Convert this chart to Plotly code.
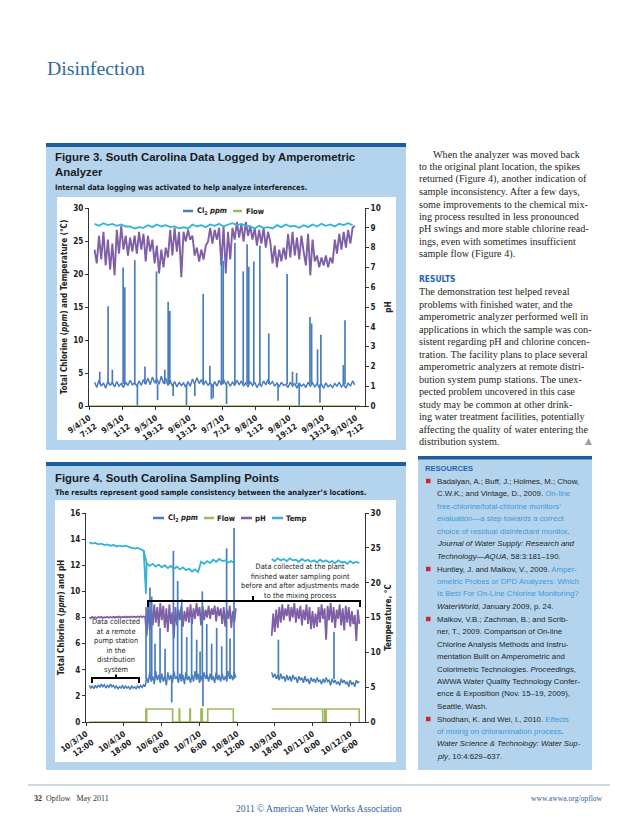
import numpy as np
import plotly.graph_objects as go

# page is 638x826; the figure sits inside the page's 8px body margin
PAGE_OFF = 8
W, H = 638 - 2 * PAGE_OFF, 826 - 2 * PAGE_OFF
def px(x): return (x - PAGE_OFF) / W
def py(y): return 1 - (y - PAGE_OFF) / H

SERIF = "Liberation Serif, Times New Roman, serif"
SANS = "Liberation Sans, Arial, sans-serif"
NARROW = "DejaVu Sans Condensed, Liberation Sans, sans-serif"

C_CL2 = "#4a7dbd"
C_FLOW = "#9bbb59"
C_PH = "#7f5fa6"
C_TEMP = "#33b4d6"
LIGHT = "#b4d4ee"
DARK = "#1f5f99"

# ---------------- Figure 3 data (hours after 9/4/10 7:12) ----------------
fig3_tick_hours = [0, 18, 36, 54, 72, 90, 108, 126, 144]
fig3_tick_labels = ["9/4/10<br>7:12", "9/5/10<br>1:12", "9/5/10<br>19:12", "9/6/10<br>13:12",
                    "9/7/10<br>7:12", "9/8/10<br>1:12", "9/8/10<br>19:12", "9/9/10<br>13:12",
                    "9/10/10<br>7:12"]
fig3_fast_start, fig3_fast_step = 3.0, 1.2
fig3_ph = [7.9, 7.2, 8.6, 7.4, 8.8, 7.1, 8.4,
           6.9, 8.2, 6.6,
           8.9, 7.7, 9.1, 7.9,
           8.6, 7.6, 8.5, 7.8, 8.6, 7.7,
           8.8, 7.9, 8.7, 7.3, 8.6, 7.8, 8.4,
           7.2, 8.1, 6.7, 7.9, 7.0, 8.0,
           7.5, 8.9, 7.6, 9.0, 7.8, 8.8,
           6.5, 8.8, 8.3, 8.9, 8.4, 8.6,
           7.6, 8.0, 7.3, 7.9, 7.4, 8.1,
           8.3, 9.0, 8.2, 8.9, 8.4, 9.0,
           7.1, 9.1, 6.7, 8.8, 7.4, 9.0,
           8.4, 9.3, 8.5, 9.2, 8.3, 9.3, 8.6, 9.1, 8.4,
           9.0, 8.1, 8.9, 8.2, 9.0, 8.0, 8.8, 8.3,
           7.2, 8.1, 7.0, 7.9, 7.3, 8.0, 7.4,
           8.7, 7.5, 8.8, 7.6, 8.5, 7.4, 8.6, 7.8,
           7.1, 8.7, 6.6, 8.4, 7.3,
           7.6, 7.0, 7.5, 7.1, 7.6, 7.0, 7.5, 7.2,
           8.4, 7.7, 8.7, 7.9, 8.8, 8.0, 8.9, 8.2, 9.0, 9.1]
fig3_cl2 = [3.6, 2.8, 3.9, 3.0, 3.5, 2.7, 3.8, 3.1, 3.6, 2.9,
            3.7, 3.0, 3.4, 2.8, 3.6, 3.1, 3.9, 3.2, 3.5, 3.0,
            3.8, 3.1, 4.0, 3.3, 4.2, 3.2, 4.4, 3.5, 4.1, 3.3,
            4.5, 3.4, 4.2, 3.1, 3.9, 3.0, 3.7, 2.9, 3.6, 3.1,
            3.5, 2.8, 3.7, 3.0, 4.1, 3.3, 4.3, 3.4, 4.0, 3.2,
            3.8, 3.1, 3.6, 2.9, 3.7, 3.0, 3.9, 3.2, 4.0, 3.3,
            3.7, 3.0, 3.6, 3.1, 3.9, 3.2, 3.8, 3.0, 3.5, 2.9,
            3.7, 3.1, 3.6, 2.8, 3.4, 3.0, 3.8, 3.2, 4.0, 3.3,
            3.7, 3.0, 3.5, 2.9, 3.6, 3.1, 3.3, 2.8, 3.6, 3.0,
            3.4, 2.7, 3.5, 3.0, 3.3, 2.8, 3.6, 3.0, 3.5, 2.9,
            3.4, 2.8, 3.3, 2.7, 3.5, 2.9, 3.2, 2.8, 3.4, 3.0,
            3.6, 2.9, 3.3, 2.7, 3.5, 3.0, 3.8, 3.2]
fig3_slow_start, fig3_slow_step = 3.0, 2.4
fig3_temp = [27.6, 27.3, 27.7, 27.4, 27.6, 27.3, 27.5, 27.2,
             27.2, 26.9, 27.1, 27.0,
             27.4, 27.1, 27.5, 27.2, 27.4, 27.1,
             27.2, 26.9, 27.1, 26.9,
             27.5, 27.2, 27.4, 27.1, 27.5, 27.3, 27.6, 27.2, 27.5,
             27.7, 27.4, 27.6, 27.3,
             27.2, 26.9, 27.3, 27.0, 27.1, 26.9,
             27.4, 27.1, 27.5, 27.2, 27.3, 27.0, 27.4, 27.1,
             27.5, 27.2, 27.6, 27.3, 27.5, 27.2, 27.6, 27.4, 27.7, 27.4]
fig3_cl2_base = 3.3
fig3_spike_hours = [5.8, 10.3, 12.6, 18.4, 19.3, 24.7, 26.1, 30.2, 36.4, 37.0, 40.9, 42.7, 43.6,
                    45.4, 52.6, 57.1, 61.6, 65.2, 66.0, 67.0, 71.5, 72.4, 74.2, 78.7, 83.2,
                    85.3, 86.2, 88.9, 92.2, 97.0, 102.0, 106.9, 109.8, 112.0, 113.4, 119.2,
                    120.1, 123.3, 124.6, 125.1, 137.2, 138.1]
fig3_spike_vals = [5.2, 15.1, 5.5, 21.0, 18.0, 22.1, 0.0, 6.0, 20.4, 0.9, 5.5, 15.8, 14.4,
                   1.5, 0.0, 1.5, 17.0, 6.1, 1.0, 1.2, 22.7, 22.0, 0.3, 24.7, 20.4,
                   24.5, 21.1, 21.9, 24.3, 11.0, 0.8, 20.0, 5.2, 5.0, 0.0, 13.5,
                   12.5, 8.6, 0.5, 10.8, 6.2, 13.0]
fig3_flow_hours = [0, 146]
fig3_flow = [0, 0]

# ---------------- Figure 4 data (hours after 10/3/10 12:00) ----------------
fig4_tick_hours = [0, 30, 60, 90, 120, 150, 180, 210]
fig4_tick_labels = ["10/3/10<br>12:00", "10/4/10<br>18:00", "10/6/10<br>0:00", "10/7/10<br>6:00",
                    "10/8/10<br>12:00", "10/9/10<br>18:00", "10/11/10<br>0:00", "10/12/10<br>6:00"]
fig4_ab_start, fig4_c_start = 2.6, 147.5
fig4_fast_step, fig4_slow_step = 1.2, 2.4
fig4_ph_ab = [8.0, 7.95, 8.05, 7.98, 8.02, 7.96, 8.04, 8.0, 8.05, 7.97,
              8.03, 8.0, 8.06, 7.98, 8.04, 8.0, 8.05, 7.99, 8.06, 8.01,
              8.07, 8.0, 8.05, 8.02, 8.08, 8.01, 8.06, 8.02, 8.08, 8.03,
              8.07, 8.02, 8.08, 8.04, 8.09, 8.03, 8.08, 8.05,
              6.6, 8.9, 7.0, 8.6, 7.4, 9.0, 7.6, 8.8, 7.3, 9.1,
              7.8, 8.9, 7.2, 8.7, 6.9, 9.0, 7.5, 8.4, 6.4, 8.8,
              7.4, 8.6, 7.8, 8.9, 7.3, 8.5, 7.7, 8.8, 7.6, 9.0,
              7.5, 8.7, 7.9, 9.1, 8.1, 8.8, 7.4, 8.9, 7.8, 8.6,
              8.0, 8.9, 7.9, 8.7, 8.2, 8.9, 7.7, 8.8, 8.1, 8.7,
              7.5, 8.8, 7.3, 8.6, 7.9, 8.9, 7.2, 8.5, 7.6, 8.7]
fig4_ph_c = [6.6, 8.3, 6.9, 8.6, 7.2, 8.8, 7.6, 9.0, 7.8, 8.7,
             8.1, 9.0, 7.7, 8.8, 8.0, 9.1, 7.6, 8.7, 7.9, 8.9,
             7.4, 8.6, 7.8, 9.0, 7.5, 8.8, 7.1, 8.5, 7.2, 8.3,
             7.3, 8.8, 7.6, 9.0, 7.9, 8.7, 6.3, 8.9, 7.8, 9.1,
             7.6, 8.8, 7.2, 8.6, 7.9, 9.0, 7.4, 8.7, 7.0, 8.9,
             7.6, 8.8, 7.3, 8.5, 7.5, 8.2, 6.2, 8.6, 7.5]
fig4_cl2_ab = [2.8, 2.6, 2.75, 2.55, 2.8, 2.6, 2.85, 2.65, 2.9, 2.7,
               2.85, 2.6, 2.8, 2.65, 2.9, 2.7, 2.8, 2.6, 2.75, 2.55,
               2.7, 2.6, 2.8, 2.55, 2.75, 2.6, 2.7, 2.5, 2.75, 2.6,
               2.7, 2.55, 2.75, 2.6, 2.8, 2.65, 2.85, 2.7,
               3.4, 3.0, 3.8, 3.1, 3.5, 2.9, 3.9, 3.2, 3.6, 3.0,
               3.7, 3.1, 3.5, 2.8, 3.8, 3.2, 3.6, 3.0, 3.9, 3.3,
               3.5, 3.0, 3.7, 3.1, 3.6, 2.9, 3.8, 3.2, 3.5, 3.0,
               3.6, 3.1, 3.9, 3.2, 3.7, 3.0, 3.5, 3.1, 3.8, 3.3,
               3.6, 3.1, 3.7, 3.2, 3.5, 3.0, 3.8, 3.2, 3.6, 3.1,
               3.7, 3.2, 3.5, 3.1, 3.9, 3.3, 3.6, 3.2, 3.8, 3.4]
fig4_cl2_c = [3.8, 3.4, 3.7, 3.3, 3.6, 3.2, 3.7, 3.3, 3.5, 3.1,
              3.6, 3.2, 3.5, 3.1, 3.6, 3.3, 3.4, 3.0, 3.5, 3.2,
              3.4, 3.0, 3.5, 3.1, 3.3, 2.9, 3.4, 3.1, 3.3, 3.0,
              3.4, 3.1, 3.2, 2.9, 3.3, 3.0, 3.4, 3.1, 3.2, 2.8,
              3.3, 3.0, 3.2, 2.9, 3.1, 2.8, 3.3, 3.0, 3.2, 2.9,
              3.1, 2.7, 3.2, 2.9, 3.0, 2.7, 3.2, 3.0, 3.1]
fig4_temp_ab = [25.8, 25.6, 25.7, 25.5, 25.6, 25.4, 25.5, 25.3, 25.4, 25.2,
                25.3, 25.2, 25.3, 25.1, 25.0, 24.9, 25.0, 24.8, 24.6,
                22.8, 22.4, 22.7, 22.3, 22.6, 22.2, 22.5, 22.1, 22.4, 22.0,
                22.3, 21.9, 22.2, 21.8, 22.0, 21.6, 21.9, 21.5, 23.0, 22.7,
                23.1, 22.8, 23.3, 23.0, 23.4, 23.1, 23.2, 22.9, 23.1, 22.8]
fig4_temp_c = [23.4, 23.1, 23.5, 23.2, 23.4, 23.1, 23.5, 23.2, 23.3, 23.0,
               23.4, 23.1, 23.3, 23.0, 23.2, 22.9, 23.3, 23.0, 23.2, 22.9,
               23.1, 22.8, 23.2, 22.9, 23.0, 22.7, 23.1, 22.8, 23.0, 22.8]
fig4_temp_event_hours = [45.8, 47.6, 48.2]
fig4_temp_event_vals = [24.6, 18.4, 22.8]
fig4_cl2_base = 3.3
fig4_spike_hours = [47.7, 50.8, 52.2, 54.8, 58.8, 62.8, 68.1, 69.4, 72.8, 76.0, 80.0, 83.9,
                    87.9, 90.6, 92.4, 92.9, 95.9, 99.8, 103.8, 107.8, 111.7, 114.4, 117.6,
                    152.8, 197.0]
fig4_spike_vals = [8.8, 10.3, 9.6, 6.0, 7.2, 5.6, 1.5, 13.1, 10.8, 9.4, 6.5, 7.8,
                   6.3, 5.4, 10.0, 1.2, 7.5, 6.0, 7.2, 5.8, 13.3, 6.4, 14.85,
                   6.3, 6.9]
fig4_flow_hours = [2.6, 47.5, 47.8, 48.2, 68.8, 74.0, 74.4, 82.5, 82.9, 91.3, 92.4, 96.7,
                   117.0, 119.7, None, 147.5, 188.0, 189.6, 190.2, 190.8, 217.0, 217.7]
fig4_flow = [0, 1, 0, 1, 0, 1, 0, 1, 0, 1, 0, 1,
             0, 0, None, 1, 0, 1, 0, 1, 0, 0]


def grid(start, step, vals):
    return list(start + step * np.arange(len(vals)))


def spikes(hours, vals, base):
    xs, ys = [], []
    for h, v in zip(hours, vals):
        xs += [h, h, None]
        ys += [base, v, None]
    return xs, ys


fig = go.Figure()

# ---------- Figure 3 traces ----------
h3f = grid(fig3_fast_start, fig3_fast_step, fig3_ph)
h3s = grid(fig3_slow_start, fig3_slow_step, fig3_temp)
fig.add_trace(go.Scatter(x=h3f, y=fig3_ph, xaxis="x", yaxis="y", mode="lines",
                         line=dict(color=C_PH, width=1.9), name="pH", showlegend=False))
fig.add_trace(go.Scatter(x=h3s, y=fig3_temp, xaxis="x", yaxis="y2", mode="lines",
                         line=dict(color=C_TEMP, width=1.8), name="Temp", showlegend=False))
fig.add_trace(go.Scatter(x=h3f, y=fig3_cl2, xaxis="x", yaxis="y2", mode="lines",
                         line=dict(color=C_CL2, width=1.5), name="Cl2 ppm", showlegend=False))
sx, sy = spikes(fig3_spike_hours, fig3_spike_vals, fig3_cl2_base)
fig.add_trace(go.Scatter(x=sx, y=sy, xaxis="x", yaxis="y2", mode="lines",
                         line=dict(color=C_CL2, width=1.7), showlegend=False))
fig.add_trace(go.Scatter(x=fig3_flow_hours, y=fig3_flow, xaxis="x", yaxis="y2", mode="lines",
                         line=dict(color=C_FLOW, width=1.5), name="Flow", showlegend=False))

# ---------- Figure 4 traces ----------
h4ab = grid(fig4_ab_start, fig4_fast_step, fig4_ph_ab)
h4c = grid(fig4_c_start, fig4_fast_step, fig4_ph_c)
t4ab = grid(fig4_ab_start, fig4_slow_step, fig4_temp_ab)
t4c = grid(fig4_c_start, fig4_slow_step, fig4_temp_c)
fig.add_trace(go.Scatter(x=h4ab + [None] + h4c, y=fig4_ph_ab + [None] + fig4_ph_c,
                         xaxis="x2", yaxis="y3", mode="lines",
                         line=dict(color=C_PH, width=1.8), showlegend=False))
fig.add_trace(go.Scatter(x=h4ab + [None] + h4c, y=fig4_cl2_ab + [None] + fig4_cl2_c,
                         xaxis="x2", yaxis="y3", mode="lines",
                         line=dict(color=C_CL2, width=1.5), showlegend=False))
sx, sy = spikes(fig4_spike_hours, fig4_spike_vals, fig4_cl2_base)
fig.add_trace(go.Scatter(x=sx, y=sy, xaxis="x2", yaxis="y3", mode="lines",
                         line=dict(color=C_CL2, width=1.7), showlegend=False))
fig.add_trace(go.Scatter(x=fig4_flow_hours, y=fig4_flow, xaxis="x2", yaxis="y3", mode="lines",
                         line=dict(color=C_FLOW, width=1.6, shape="hv"), showlegend=False))
fig.add_trace(go.Scatter(x=t4ab + [None] + t4c, y=fig4_temp_ab + [None] + fig4_temp_c,
                         xaxis="x2", yaxis="y4", mode="lines",
                         line=dict(color=C_TEMP, width=1.8), showlegend=False))
fig.add_trace(go.Scatter(x=fig4_temp_event_hours, y=fig4_temp_event_vals, xaxis="x2", yaxis="y4",
                         mode="lines", line=dict(color=C_TEMP, width=1.8), showlegend=False))

TF = dict(family=NARROW, size=8.1, color="#222", weight="bold")
AX = dict(showline=True, linecolor="#333", linewidth=1, ticks="outside", ticklen=3,
          tickcolor="#333", showgrid=False, zeroline=False, tickfont=TF, automargin=False)

fig.update_layout(
    template="none",
    width=W, height=H, autosize=False,
    margin=dict(l=0, r=0, t=0, b=0, pad=0, autoexpand=False),
    paper_bgcolor="white", plot_bgcolor="rgba(0,0,0,0)",
    showlegend=False,
    xaxis=dict(domain=[px(89), px(365)], range=[0, 148.9], anchor="y",
               tickmode="array", tickvals=fig3_tick_hours, ticktext=fig3_tick_labels,
               tickangle=-35, **AX),
    yaxis=dict(domain=[py(406), py(208)], range=[0, 10], side="right", anchor="x",
               dtick=1, title=dict(text="pH", font=TF, standoff=5), **AX),
    yaxis2=dict(overlaying="y", side="left", anchor="x", range=[0, 30], dtick=5,
                title=dict(text="Total Chlorine (<i>ppm</i>) and Temperature (°C)", font=TF, standoff=4),
                **AX),
    xaxis2=dict(domain=[px(86), px(365)], range=[0, 221.6], anchor="y3",
                tickmode="array", tickvals=fig4_tick_hours, ticktext=fig4_tick_labels,
                tickangle=-35, **AX),
    yaxis3=dict(domain=[py(722), py(513)], range=[0, 16], side="left", anchor="x2", dtick=2,
                title=dict(text="Total Chlorine (<i>ppm</i>) and pH", font=TF, standoff=4), **AX),
    yaxis4=dict(overlaying="y3", side="right", anchor="x2", range=[0, 30], dtick=5,
                title=dict(text="Temperature, °C", font=TF, standoff=5), **AX),
)

shapes = []
def rect(x0, y0, x1, y1, color):
    shapes.append(dict(type="rect", xref="paper", yref="paper", x0=px(x0), x1=px(x1),
                       y0=py(y1), y1=py(y0), fillcolor=color, line=dict(width=0), layer="below"))
def seg(x0, y0, x1, y1, color, width=1.0, layer="above"):
    shapes.append(dict(type="line", xref="paper", yref="paper", x0=px(x0), x1=px(x1),
                       y0=py(y0), y1=py(y1), line=dict(color=color, width=width), layer=layer))

# figure boxes
rect(46, 144, 406, 450, LIGHT)
rect(57, 197, 396, 440, "white")
rect(46, 143, 406, 147, DARK)
rect(46, 463, 406, 770, LIGHT)
rect(55, 500, 396, 762, "white")
rect(46, 462, 406, 466, DARK)
# resources box
rect(418, 458, 592, 770, LIGHT)
rect(418, 456, 592, 459.5, DARK)
# footer rule
seg(28, 785, 610, 785, "#9bb3c4", 1.2)

# legends
seg(183, 211, 193, 211, C_CL2, 2.5)
seg(233, 211, 242, 211, C_FLOW, 2.5)
seg(153, 518, 164, 518, C_CL2, 2.5)
seg(204, 518, 214, 518, C_FLOW, 2.5)
seg(241, 518, 252, 518, C_PH, 2.5)
seg(272, 518, 283, 518, C_TEMP, 2.5)

# brackets in figure 4
seg(148, 601, 360, 601, "black", 2)
seg(148, 600, 148, 607, "black", 2)
seg(360, 600, 360, 607, "black", 2)
seg(253, 596, 253, 601, "black", 2)
seg(92, 678, 139, 678, "black", 2)
seg(92, 677, 92, 683, "black", 2)
seg(139, 677, 139, 683, "black", 2)
seg(116, 674.5, 116, 678, "black", 2)

# bullets
for yb in [481, 569, 619, 719]:
    rect(426, yb - 2.2, 430.5, yb + 2.2, "#d3242b")

# small logo mark
shapes.append(dict(type="path", xref="paper", yref="paper",
                   path=f"M {px(585)},{py(445)} L {px(588.5)},{py(438)} L {px(592)},{py(445)} Z",
                   fillcolor="#a0a0a0", line=dict(width=0)))

fig.update_layout(shapes=shapes)


def txt(x, y, s, size, color="#231f20", family=SERIF, anchor="left", weight="normal"):
    fig.add_annotation(x=px(x), y=py(y), xref="paper", yref="paper", text=s, showarrow=False,
                       xanchor=anchor, yanchor="middle", borderpad=0,
                       font=dict(family=family, size=size, color=color, weight=weight))

txt(46, 68, "Disinfection", 19.8, color="#2c6aa8")

# figure headings
HEAD = "Liberation Sans, Arial, sans-serif"
txt(54, 157, "Figure 3. South Carolina Data Logged by Amperometric", 11.4, "#1a1a1a", HEAD, weight="bold")
txt(54, 172.5, "Analyzer", 11.4, "#1a1a1a", HEAD, weight="bold")
txt(54, 187, "Internal data logging was activated to help analyze interferences.", 7.5, "#1a1a1a", NARROW, weight="bold")
txt(54, 478, "Figure 4. South Carolina Sampling Points", 11.4, "#1a1a1a", HEAD, weight="bold")
txt(54, 492, "The results represent good sample consistency between the analyzer’s locations.", 7.5, "#1a1a1a", NARROW, weight="bold")

txt(196, 211, "Cl<sub>2</sub> <i>ppm</i>", 7.6, "#222", NARROW, weight="bold")
txt(245, 211, "Flow", 7.6, "#222", NARROW, weight="bold")
txt(167, 518, "Cl<sub>2</sub> <i>ppm</i>", 7.6, "#222", NARROW, weight="bold")
txt(216, 518, "Flow", 7.6, "#222", NARROW, weight="bold")
txt(254, 518, "pH", 7.6, "#222", NARROW, weight="bold")
txt(285, 518, "Temp", 7.6, "#222", NARROW, weight="bold")

fig.add_annotation(x=px(300), y=py(581), xref="paper", yref="paper", showarrow=False,
                   text="Data collected at the plant<br>finished water sampling point<br>before and after adjustments made<br>to the mixing process",
                   align="center", xanchor="center", yanchor="middle", borderpad=0,
                   font=dict(family=NARROW, size=7.4, color="#222"))
fig.add_annotation(x=px(116), y=py(645.5), xref="paper", yref="paper", showarrow=False,
                   text="Data collected<br>at a remote<br>pump station<br>in the<br>distribution<br>system",
                   align="center", xanchor="center", yanchor="middle", borderpad=0,
                   font=dict(family=NARROW, size=7.4, color="#222"))

# right column body text
body1 = ["to the original plant location, the spikes",
         "returned (Figure 4), another indication of",
         "sample inconsistency. After a few days,",
         "some improvements to the chemical mix-",
         "ing process resulted in less pronounced",
         "pH swings and more stable chlorine read-",
         "ings, even with sometimes insufficient",
         "sample flow (Figure 4)."]
txt(432, 154, "When the analyzer was moved back", 10.2)
for i, line in enumerate(body1):
    txt(418, 166.5 + 12.5 * i, line, 10.2)
txt(418, 279, "RESULTS", 8.4, "#1d66ae", NARROW, weight="bold")
body2 = ["The demonstration test helped reveal",
         "problems with finished water, and the",
         "amperometric analyzer performed well in",
         "applications in which the sample was con-",
         "sistent regarding pH and chlorine concen-",
         "tration. The facility plans to place several",
         "amperometric analyzers at remote distri-",
         "bution system pump stations. The unex-",
         "pected problem uncovered in this case",
         "study may be common at other drink-",
         "ing water treatment facilities, potentially",
         "affecting the quality of water entering the",
         "distribution system."]
for i, line in enumerate(body2):
    txt(418, 291.7 + 12.5 * i, line, 10.2)

# resources
LINK = "#3c98d8"
def lk(s):
    return f'<span style="color:{LINK}">{s}</span>'
txt(424, 469, "RESOURCES", 7.6, "#1d66ae", SANS, weight="bold")
res = [
    (481, "Badalyan, A.; Buff, J.; Holmes, M.; Chow,"),
    (493.5, "C.W.K.; and Vintage, D., 2009. " + lk("On-line")),
    (506, lk("free-chlorine/total-chlorine monitors’")),
    (518.5, lk("evaluation—a step towards a correct")),
    (531, lk("choice of residual disinfectant monitor") + "."),
    (543.5, "<i>Journal of Water Supply: Research and</i>"),
    (556, "<i>Technology—AQUA</i>, 58:3:181–190."),
    (569, "Huntley, J. and Malkov, V., 2009. " + lk("Amper-")),
    (581, lk("ometric Probes or DPD Analyzers: Which")),
    (593.5, lk("Is Best For On-Line Chlorine Monitoring?")),
    (606, "<i>WaterWorld</i>, January 2009, p. 24."),
    (619, "Malkov, V.B.; Zachman, B.; and Scrib-"),
    (631.5, "ner, T., 2009. Comparison of On-line"),
    (644, "Chlorine Analysis Methods and Instru-"),
    (656.5, "mentation Built on Amperometric and"),
    (669, "Colorimetric Technologies. <i>Proceedings</i>,"),
    (681, "AWWA Water Quality Technology Confer-"),
    (693.5, "ence &amp; Exposition (Nov. 15–19, 2009),"),
    (706, "Seattle, Wash."),
    (719, "Shodhan, K. and Wei, I., 2010. " + lk("Effects")),
    (731, lk("of mixing on chloramination process") + "."),
    (743.5, "<i>Water Science &amp; Technology: Water Sup-</i>"),
    (756, "<i>ply</i>, 10:4:629–637."),
]
for yy, s in res:
    txt(436, yy, s, 7.8, "#231f20", SANS)

# footer
txt(33, 798, "<b>32</b>  Opflow   May 2011", 8, "#333", SERIF)
txt(319, 809, "2011 © American Water Works Association", 9.5, "#2d5f9e", SERIF, anchor="center")
txt(604, 798, "www.awwa.org/opflow", 7.6, "#2d5f9e", SERIF, anchor="right")

fig.write_html("out.html")
